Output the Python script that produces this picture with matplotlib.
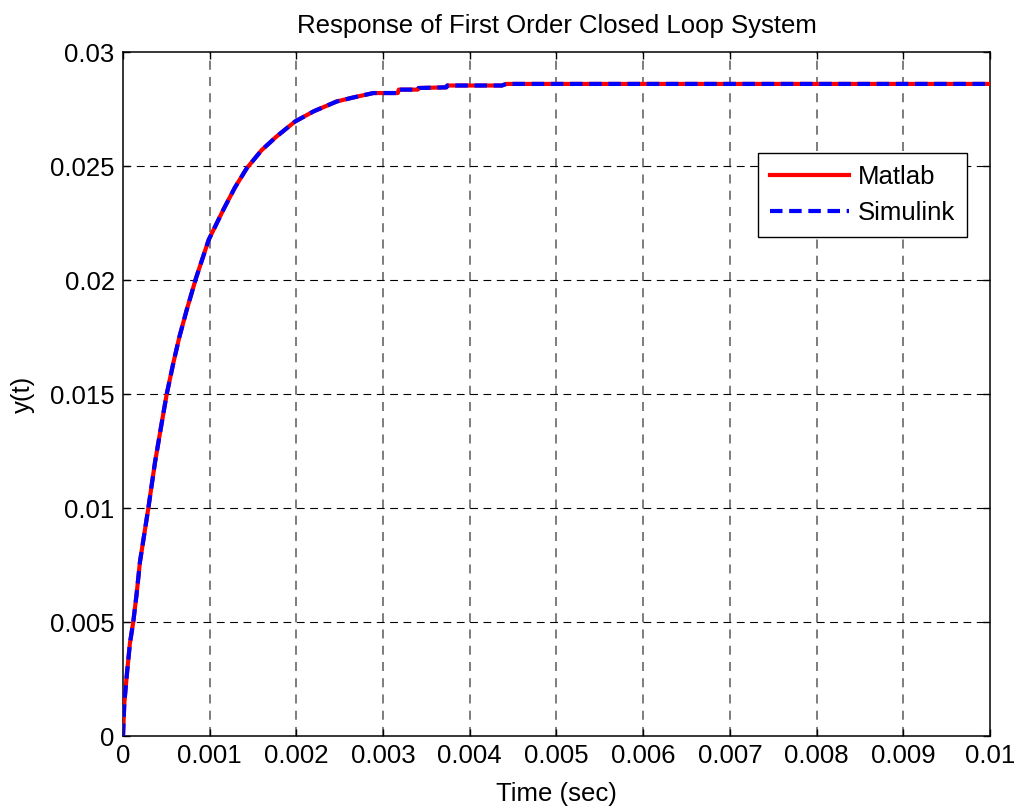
import numpy as np
import matplotlib
matplotlib.use('Agg')
import matplotlib.pyplot as plt

plt.rcParams['font.family'] = ['Liberation Sans', 'DejaVu Sans']

# values (time in ms, response in 1e-3)
t_ms = [0, 0.015, 0.042, 0.080, 0.119, 0.158, 0.196, 0.292, 0.369, 0.446,
        0.504, 0.58, 0.65, 0.735, 0.842, 0.988, 1.157, 1.29, 1.427, 1.6,
        1.773, 1.984, 2.2, 2.465, 2.65, 2.887, 3.17, 3.18, 3.40, 3.41,
        3.73, 3.74, 4.37, 4.42, 10.0]
y_e3 = [0, 1.43, 2.6, 4.07, 5.02, 6.26, 7.65, 9.99, 12.0, 13.72,
        14.99, 16.35, 17.5, 18.69, 20.08, 21.76, 23.08, 24.05, 24.9, 25.7,
        26.3, 26.95, 27.4, 27.83, 28.0, 28.2, 28.2, 28.35, 28.35, 28.42,
        28.45, 28.53, 28.53, 28.6, 28.6]

t = np.array(t_ms) * 1e-3
y_matlab = np.array(y_e3) * 1e-3
y_simulink = np.array(y_e3) * 1e-3

xticks = [0, 0.001, 0.002, 0.003, 0.004, 0.005, 0.006, 0.007, 0.008, 0.009, 0.01]
xlabels = ['0', '0.001', '0.002', '0.003', '0.004', '0.005', '0.006', '0.007', '0.008', '0.009', '0.01']
yticks = [0, 0.005, 0.01, 0.015, 0.02, 0.025, 0.03]
ylabels = ['0', '0.005', '0.01', '0.015', '0.02', '0.025', '0.03']

fs = 18.5

fig = plt.figure(figsize=(10.2, 8.08), dpi=100)
ax = fig.add_axes([123/1020, 1 - 736/808, (990-123)/1020, (736-52)/808])

ax.plot(t, y_matlab, color='red', lw=3, label='Matlab', zorder=3)
ax.plot(t, y_simulink, color='blue', lw=3, ls=(0, (3, 1.6)), label='Simulink', zorder=4)

ax.set_xlim(0, 0.01)
ax.set_ylim(0, 0.03)
ax.set_xticks(xticks)
ax.set_xticklabels(xlabels)
ax.set_yticks(yticks)
ax.set_yticklabels(ylabels)

for xv in xticks[1:-1]:
    ax.axvline(xv, color='0.45', lw=1.3, ls=(0, (5, 4)), zorder=1)
for yv in yticks[1:-1]:
    ax.axhline(yv, color='black', lw=0.8, ls=(0, (7, 5)), zorder=1)

ax.tick_params(direction='in', length=5, width=1, top=True, right=True,
               labelsize=fs, pad=6)
for s in ax.spines.values():
    s.set_linewidth(1.1)

ax.set_title('Response of First Order Closed Loop System', fontsize=fs, pad=14)
ax.set_xlabel('Time (sec)', fontsize=fs, labelpad=10)
ax.set_ylabel('y(t)', fontsize=fs, labelpad=11)

leg = ax.legend(loc='upper right', bbox_to_anchor=(967/1020, 1 - 153/808),
                bbox_transform=fig.transFigure, borderaxespad=0, fontsize=fs,
                fancybox=False, framealpha=1, edgecolor='black',
                handlelength=3.1, handletextpad=0.35, labelspacing=0.5,
                borderpad=0.45)
leg.get_frame().set_linewidth(1.0)

fig.savefig('out.png', dpi=100)
